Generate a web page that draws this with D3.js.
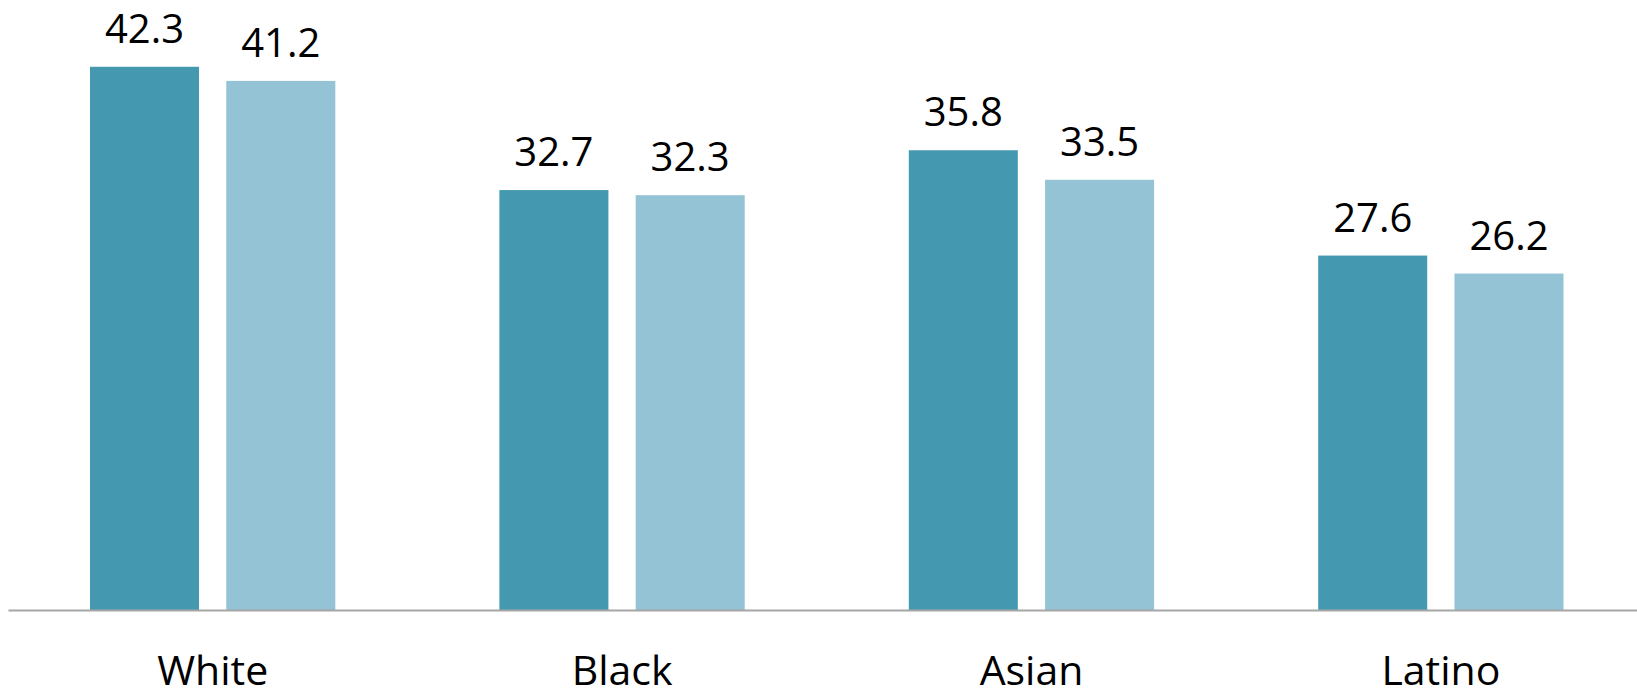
<!DOCTYPE html>
<html>
<head>
<meta charset="utf-8">
<script src="https://cdn.jsdelivr.net/npm/d3@7"></script>
<style>
	body { margin: 0; background: #fff; }
	text { font-family: "Open Sans", sans-serif; fill: #000; }
</style>
</head>
<body>
<div id="chart"></div>
<script>
// data
var categories = ["White", "Black", "Asian", "Latino"];
var series = ["first", "second"];
var firstValues = [42.3, 32.7, 35.8, 27.6];
var secondValues = [41.2, 32.3, 33.5, 26.2];
var seriesColors = ["#4499b0", "#93c3d4"];

var width = 1637, height = 692;
var baseline = 610;

var data = categories.map(function(c, i){
	return {cat: c, values: [firstValues[i], secondValues[i]]};
});

var svg = d3.select("#chart")
	.append("svg")
	.attr("width", width)
	.attr("height", height);

var x0 = d3.scaleBand()
	.domain(categories)
	.range([8, 8 + 4 * 409.4]);

var x1 = d3.scaleBand()
	.domain(series)
	.range([82, 327.3])
	.paddingInner(0.2);

var y = d3.scaleLinear()
	.domain([0, 47.5])
	.range([baseline, 0]);

var groups = svg.selectAll(".group")
	.data(data)
	.enter()
	.append("g")
	.attr("class", "group")
	.attr("transform", function(d){ return "translate(" + x0(d.cat) + ",0)"; });

groups.selectAll("rect")
	.data(function(d){ return d.values; })
	.enter()
	.append("rect")
	.attr("x", function(d, i){ return x1(series[i]); })
	.attr("width", x1.bandwidth())
	.attr("y", function(d){ return y(d); })
	.attr("height", function(d){ return baseline - y(d); })
	.attr("fill", function(d, i){ return seriesColors[i]; });

groups.selectAll(".val")
	.data(function(d){ return d.values; })
	.enter()
	.append("text")
	.attr("class", "val")
	.attr("x", function(d, i){ return x1(series[i]) + x1.bandwidth() / 2; })
	.attr("y", function(d){ return y(d) - 24; })
	.attr("text-anchor", "middle")
	.style("font-size", "40px")
	.text(function(d){ return d.toFixed(1); });

// x axis, line only plus category names
var xAxis = svg.append("g")
	.attr("class", "x axis")
	.attr("transform", "translate(0," + baseline + ")")
	.call(d3.axisBottom(x0).tickSize(0).tickSizeOuter(0));

xAxis.select(".domain")
	.attr("stroke", "#a6a6a6")
	.attr("stroke-width", 2);

xAxis.selectAll("text")
	.attr("y", 75)
	.attr("dy", 0)
	.style("font-size", "41px")
	.style("font-family", "'Open Sans', sans-serif")
	.attr("fill", "#000");
</script>
</body>
</html>
